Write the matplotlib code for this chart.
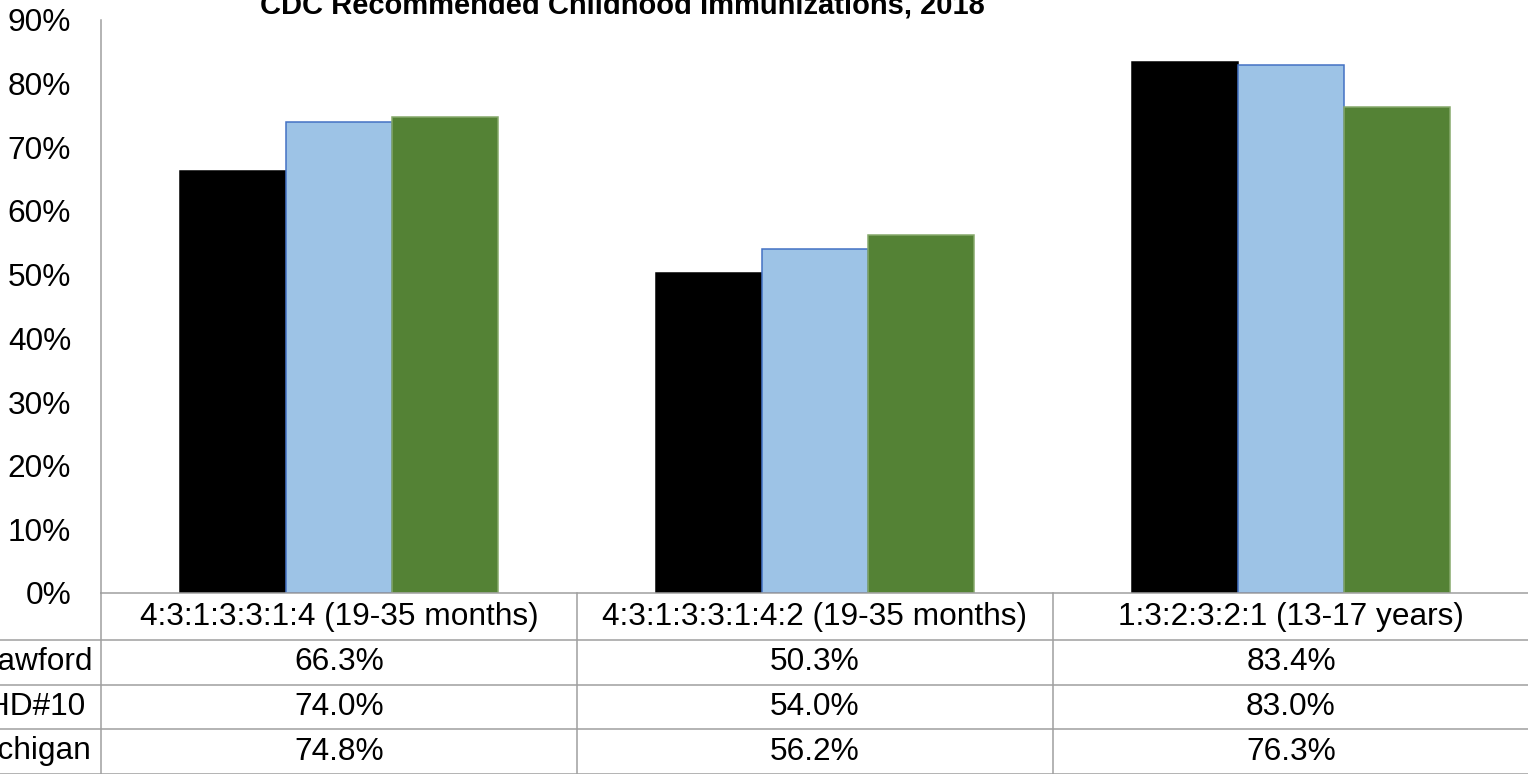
import matplotlib
matplotlib.use("Agg")
import matplotlib.pyplot as plt
from matplotlib.transforms import blended_transform_factory
import numpy as np

plt.rcParams['font.family'] = ['Liberation Sans', 'DejaVu Sans']

# data
title = "CDC Recommended Childhood Immunizations, 2018"
categories = ["4:3:1:3:3:1:4 (19-35 months)",
              "4:3:1:3:3:1:4:2 (19-35 months)",
              "1:3:2:3:2:1 (13-17 years)"]
series_names = ["Crawford", "DHD#10", "Michigan"]
crawford = [66.3, 50.3, 83.4]
dhd10 = [74.0, 54.0, 83.0]
michigan = [74.8, 56.2, 76.3]
y_ticks = [0, 10, 20, 30, 40, 50, 60, 70, 80, 90]

series = [crawford, dhd10, michigan]
colors = ['#000000', '#9DC3E6', '#548235']
edges = ['#000000', '#4472C4', '#86A96B']

W, H = 1528, 774
fig = plt.figure(figsize=(W / 100, H / 100), dpi=100)
fig.patch.set_facecolor('white')

# plot area in pixels: left 101, top 20, bottom 593, category width 476
ax = fig.add_axes([101 / W, (H - 593) / H, 1428 / W, (593 - 20) / H])

x = np.arange(len(categories))
bw = 0.2225
for i, vals in enumerate(series):
    ax.bar(x + (i - 1) * bw, np.array(vals) / 100, width=bw,
           color=colors[i], edgecolor=edges[i], linewidth=1.1, zorder=2)

ax.set_xlim(-0.5, 2.5)
ax.set_ylim(0, 0.9)
ax.set_yticks([t / 100 for t in y_ticks])
ax.set_yticklabels([f"{t}%" for t in y_ticks], fontsize=22.8)
ax.tick_params(axis='y', length=0, pad=21.5)
ax.set_xticks([])
for s in ['top', 'right', 'bottom']:
    ax.spines[s].set_visible(False)
ax.spines['left'].set_color('#9F9F9F')
ax.spines['left'].set_linewidth(1.1)

# title (partly cut by the top edge)
fig.text(260 / W, 1 - 13 / H, title, ha='left', va='baseline',
         fontsize=21, fontweight='bold')

# data table below the plot
tr = blended_transform_factory(ax.transData, fig.transFigure)
line_kw = dict(color='#9F9F9F', linewidth=1.1, clip_on=False, zorder=3)

def fy(px):
    return 1 - px / H

ax.plot([-0.5, 2.5], [fy(593), fy(593)], transform=tr, **line_kw)
for ypx in [640, 685, 729, 773.5]:
    fig.add_artist(plt.Line2D([0, 1], [fy(ypx), fy(ypx)], transform=fig.transFigure,
                              color='#9F9F9F', linewidth=1.1))
for xb in [-0.5, 0.5, 1.5, 2.5]:
    ax.plot([xb, xb], [fy(593), fy(H)], transform=tr, **line_kw)

row_centers = [616.5, 662.5, 707, 751.5]
for j, cat in enumerate(categories):
    ax.text(x[j], fy(row_centers[0]), cat, transform=tr, ha='center', va='center',
            fontsize=22.8, clip_on=False)
    for i, vals in enumerate(series):
        ax.text(x[j], fy(row_centers[i + 1]), f"{vals[j]:.1f}%", transform=tr,
                ha='center', va='center', fontsize=22.8, clip_on=False)

for i, name in enumerate(series_names):
    fig.text(-36 / W, fy(row_centers[i + 1]), name, ha='left', va='center',
             fontsize=22.8)

fig.savefig("out.png", dpi=100)
